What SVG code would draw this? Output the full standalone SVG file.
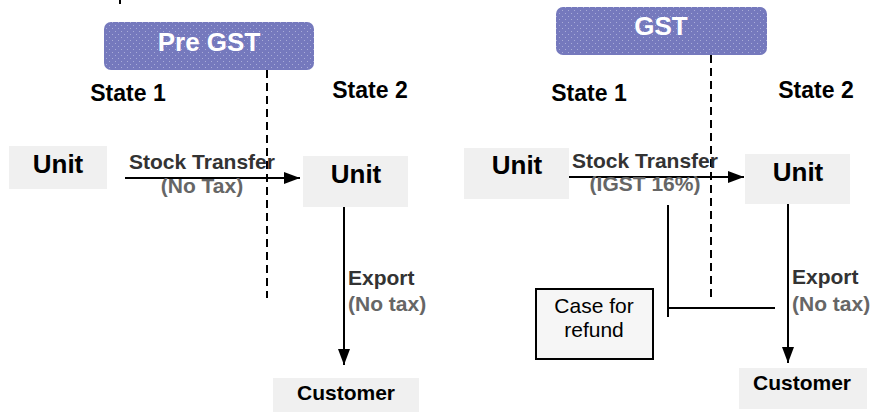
<svg xmlns="http://www.w3.org/2000/svg" width="873" height="412" viewBox="0 0 873 412">
<defs>
<pattern id="dots" width="6" height="6" patternUnits="userSpaceOnUse">
<rect width="6" height="6" fill="#7579bd"/>
<rect x="1" y="1" width="1" height="1" fill="#a9acd8"/>
<rect x="4" y="4" width="1" height="1" fill="#a9acd8"/>
</pattern>
<marker id="ah" viewBox="0 0 16 12" markerWidth="16" markerHeight="12" refX="16" refY="6" orient="auto" markerUnits="userSpaceOnUse">
<path d="M0,0 L16,6 L0,12 Z" fill="#000"/>
</marker>
<style>
.t{font-family:"Liberation Sans",Arial,sans-serif;font-weight:bold;text-anchor:middle}
.hdr{font-size:26px;fill:#fff}
.st{font-size:23px;fill:#000}
.unit{font-size:26px;fill:#000}
.lab{font-size:21px;fill:#333}
.sub{font-size:21px;fill:#666}
.lab2{font-size:21px;fill:#333}
.sub2{font-size:21px;fill:#666}
.cust{font-size:21px;fill:#000}
.nbox{fill:#f0f0f0}
.hbox{fill:url(#dots)}
.dash{stroke:#000;stroke-width:2;stroke-dasharray:8,5;fill:none}
.ln{stroke:#000;stroke-width:2;fill:none}
.reg{font-family:"Liberation Sans",Arial,sans-serif;font-size:21px;fill:#000;text-anchor:middle}
</style>
</defs>
<rect width="873" height="412" fill="#fff"/>
<line x1="120" y1="0" x2="120" y2="4" stroke="#000" stroke-width="2"/>

<g id="connectors">
<line class="dash" x1="267" y1="70" x2="267" y2="298"/>
<line class="dash" x1="711" y1="55" x2="711" y2="297"/>
<line class="ln" x1="125" y1="178" x2="300" y2="178" marker-end="url(#ah)"/>
<line class="ln" x1="344" y1="207" x2="344" y2="365" marker-end="url(#ah)"/>
<line class="ln" x1="569" y1="177" x2="744" y2="177" marker-end="url(#ah)"/>
<line class="ln" x1="788" y1="204" x2="788" y2="363" marker-end="url(#ah)"/>
<line class="ln" x1="668" y1="205" x2="668" y2="317"/>
<line class="ln" x1="668" y1="308" x2="775" y2="308"/>
</g>

<g id="pre-gst">
<rect class="hbox" x="104" y="22" width="210" height="48" rx="7"/>
<text class="t hdr" x="209" y="51">Pre GST</text>
</g>
<g id="gst">
<rect class="hbox" x="556" y="7" width="211" height="48" rx="7"/>
<text class="t hdr" x="661" y="35">GST</text>
</g>

<g id="labels-left">
<text class="t st" x="128" y="101">State 1</text>
<text class="t st" x="370" y="98">State 2</text>
<text class="t lab" x="202" y="169">Stock Transfer</text>
<text class="t sub" x="202" y="193">(No Tax)</text>
<text class="t lab2" x="348" y="285" style="text-anchor:start">Export</text>
<text class="t sub2" x="348" y="311" style="text-anchor:start">(No tax)</text>
</g>
<g id="labels-right">
<text class="t st" x="589" y="101">State 1</text>
<text class="t st" x="816" y="98">State 2</text>
<text class="t lab" x="645" y="168">Stock Transfer</text>
<text class="t sub" x="645" y="191">(IGST 16%)</text>
<text class="t lab2" x="792" y="284" style="text-anchor:start">Export</text>
<text class="t sub2" x="792" y="311" style="text-anchor:start">(No tax)</text>
</g>

<g id="unit-l1">
<rect class="nbox" x="9" y="146" width="98" height="43"/>
<text class="t unit" x="58" y="173">Unit</text>
</g>
<g id="unit-l2">
<rect class="nbox" x="303" y="156" width="105" height="51"/>
<text class="t unit" x="356" y="183">Unit</text>
</g>
<g id="customer-l">
<rect class="nbox" x="273" y="378" width="146" height="34"/>
<text class="t cust" x="346" y="400">Customer</text>
</g>

<g id="unit-r1">
<rect class="nbox" x="464" y="148" width="105" height="51"/>
<text class="t unit" x="517" y="174">Unit</text>
</g>
<g id="unit-r2">
<rect class="nbox" x="745" y="154" width="105" height="50"/>
<text class="t unit" x="798" y="181">Unit</text>
</g>
<g id="customer-r">
<rect class="nbox" x="739" y="368" width="128" height="41"/>
<text class="t cust" x="802" y="390">Customer</text>
</g>
<g id="refund">
<rect x="536" y="289" width="117" height="70" fill="#f6f6f6" stroke="#000" stroke-width="2"/>
<text class="reg" x="594" y="313">Case for</text>
<text class="reg" x="594" y="337">refund</text>
</g>
</svg>
